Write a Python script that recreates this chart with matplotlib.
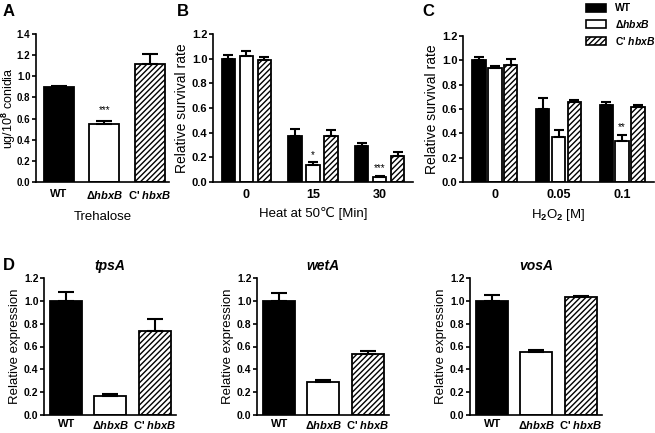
import matplotlib
matplotlib.use("Agg")
import matplotlib.pyplot as plt
from matplotlib.patches import Patch
import numpy as np

plt.rcParams['font.family'] = ['Liberation Sans', 'DejaVu Sans']
plt.rcParams['font.weight'] = 'bold'
plt.rcParams['mathtext.fontset'] = 'custom'
plt.rcParams['mathtext.rm'] = 'Liberation Sans:bold'
plt.rcParams['mathtext.it'] = 'Liberation Sans:italic:bold'
plt.rcParams['mathtext.bf'] = 'Liberation Sans:bold'
plt.rcParams['hatch.linewidth'] = 1.0

# strains
strains = ["WT", r"$\mathit{\Delta hbxB}$", r"C' $\mathit{hbxB}$"]
legend_labels = ["WT", r"$\mathit{\Delta hbxB}$", r"C' $\mathit{hbxB}$"]

# A: trehalose
treh_mean = [0.90, 0.55, 1.12]
treh_err = [0.01, 0.03, 0.09]
treh_sig = ["", "***", ""]

# B: heat
heat_groups = ["0", "15", "30"]
heat_mean = {"WT": [1.00, 0.37, 0.29], "dhbxB": [1.02, 0.14, 0.04], "C": [0.99, 0.37, 0.21]}
heat_err = {"WT": [0.03, 0.06, 0.03], "dhbxB": [0.04, 0.02, 0.01], "C": [0.02, 0.05, 0.03]}
heat_sig = ["", "*", "***"]

# C: H2O2
h2o2_groups = ["0", "0.05", "0.1"]
h2o2_mean = {"WT": [1.00, 0.60, 0.63], "dhbxB": [0.94, 0.37, 0.34], "C": [0.96, 0.66, 0.62]}
h2o2_err = {"WT": [0.03, 0.09, 0.03], "dhbxB": [0.01, 0.06, 0.05], "C": [0.05, 0.01, 0.01]}
h2o2_sig = ["", "", "**"]

# D: expression
genes = ["tpsA", "wetA", "vosA"]
expr_mean = [[1.00, 0.17, 0.74], [1.00, 0.29, 0.53], [1.00, 0.55, 1.03]]
expr_err = [[0.08, 0.01, 0.10], [0.07, 0.02, 0.03], [0.05, 0.02, 0.01]]

styles = [dict(facecolor="black", edgecolor="black"),
          dict(facecolor="white", edgecolor="black"),
          dict(facecolor="white", edgecolor="black", hatch="//////")]

W, H = 655, 433
fig = plt.figure(figsize=(W / 100, H / 100), dpi=100)


def px_axes(l, r, t, b):
    return fig.add_axes([l / W, 1 - b / H, (r - l) / W, (b - t) / H])


def style_axes(ax, ymax, ysize, xsize):
    for s in ["top", "right"]:
        ax.spines[s].set_visible(False)
    for s in ["left", "bottom"]:
        ax.spines[s].set_linewidth(1.2)
    ticks = np.arange(0, ymax + 0.01, 0.2)
    ax.set_ylim(0, ymax)
    ax.set_yticks(ticks)
    ax.set_yticklabels([f"{v:.1f}" for v in ticks])
    ax.tick_params(axis="y", length=3, width=1.2, labelsize=ysize, pad=1)
    ax.tick_params(axis="x", length=0, labelsize=xsize, pad=5)


def single_panel(ax, means, errs, width, capsize):
    x = np.arange(3)
    for i in range(3):
        ax.bar(x[i], means[i], width, linewidth=1.3, **styles[i], zorder=2)
        ax.errorbar(x[i], means[i], yerr=[[0], [errs[i]]], fmt="none", ecolor="black",
                    elinewidth=1.5, capsize=capsize, capthick=1.5, zorder=3)
    ax.set_xticks(x)
    ax.set_xticklabels(strains)
    ax.set_xticks([1], minor=True)
    ax.tick_params(axis="x", which="minor", length=3, width=1.0)


def grouped_panel(ax, groups, mean, err, sig, step, width):
    x = np.arange(len(groups))
    keys = ["WT", "dhbxB", "C"]
    for k, key in enumerate(keys):
        xs = x + (k - 1) * step
        ax.bar(xs, mean[key], width, linewidth=1.3, **styles[k], zorder=2)
        ax.errorbar(xs, mean[key], yerr=[np.zeros(len(xs)), err[key]], fmt="none", ecolor="black",
                    elinewidth=1.5, capsize=3.5, capthick=1.5, zorder=3)
    for i, s in enumerate(sig):
        if s:
            top = mean["dhbxB"][i] + err["dhbxB"][i]
            ax.text(x[i], top + 0.02, s, ha="center", va="bottom", fontsize=7, fontweight="normal")
    ax.set_xticks(x)
    ax.set_xticklabels(groups)
    ax.set_xlim(-0.5, len(groups) - 0.5)


# panel A
axA = px_axes(36, 169, 34, 182)
style_axes(axA, 1.4, 7, 8)
single_panel(axA, treh_mean, treh_err, 0.66, 6)
axA.set_xlim(-0.5, 2.42)
axA.text(1, treh_mean[1] + treh_err[1] + 0.05, treh_sig[1], ha="center", va="bottom",
         fontsize=7, fontweight="normal")
axA.set_ylabel(r"ug/10$^{8}$ conidia", fontsize=9)
axA.yaxis.set_label_coords(-18 / 133, 0.5)
axA.set_xlabel("Trehalose", fontsize=9.5, labelpad=7)

# panel B
axB = px_axes(213, 413, 34, 182)
style_axes(axB, 1.2, 8, 9)
grouped_panel(axB, heat_groups, heat_mean, heat_err, heat_sig, 0.27, 0.2)
axB.set_ylabel("Relative survival rate", fontsize=10, labelpad=2)
axB.set_xlabel("Heat at 50\u2103 [Min]", fontsize=9.5, labelpad=4)

# panel C
axC = px_axes(463, 654, 36, 182)
style_axes(axC, 1.2, 8, 9)
grouped_panel(axC, h2o2_groups, h2o2_mean, h2o2_err, h2o2_sig, 0.25, 0.21)
axC.set_ylabel("Relative survival rate", fontsize=10, labelpad=2)
axC.set_xlabel(r"H$_2$O$_2$ [M]", fontsize=9.5, labelpad=4)

# panel D
d_lefts = [(44, 176), (257, 389), (470, 602)]
for g, (l, r) in enumerate(d_lefts):
    ax = px_axes(l, r, 278, 415)
    style_axes(ax, 1.2, 7.5, 8)
    ax.tick_params(axis="x", pad=3)
    single_panel(ax, expr_mean[g], expr_err[g], 0.72, 6)
    ax.set_xlim(-0.5, 2.48)
    ax.set_ylabel("Relative expression", fontsize=9.5, labelpad=2)
    ax.set_title(genes[g], fontsize=10, fontstyle="italic", fontweight="bold", pad=6)

# legend
handles = [Patch(linewidth=1.2, **styles[i]) for i in range(3)]
fig.legend(handles, legend_labels, loc="upper left", bbox_to_anchor=(582 / W, 1 + 1 / H),
           frameon=False, fontsize=7.5, handlelength=1.9, handleheight=0.8,
           labelspacing=0.45, handletextpad=0.9, borderaxespad=0)

# panel letters
for letter, (px, py) in zip("ABCD", [(3, 12), (177, 12), (422, 12), (3, 266)]):
    fig.text(px / W, 1 - py / H, letter, fontsize=12, fontweight="bold", va="center", ha="left")

fig.savefig("out.png", dpi=100)
